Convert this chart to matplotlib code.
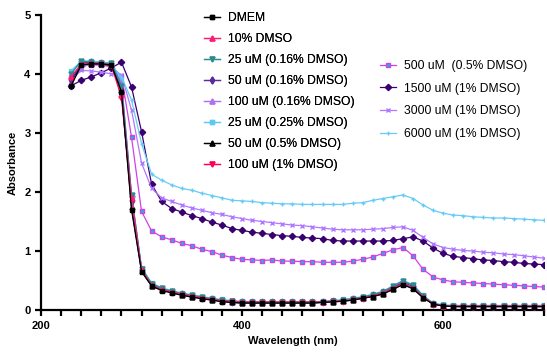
import numpy as np
import matplotlib
matplotlib.use("Agg")
import matplotlib.pyplot as plt

plt.rcParams["font.family"] = ["Liberation Sans", "DejaVu Sans"]

# wavelength grid (nm)
wl = np.arange(230, 701, 10)

# absorbance
dmem = [3.80, 4.15, 4.17, 4.17, 4.15, 3.70, 1.70, 0.65, 0.41, 0.33, 0.29, 0.25, 0.22, 0.19, 0.17, 0.14, 0.13, 0.12,
        0.12, 0.12, 0.12, 0.12, 0.12, 0.12, 0.12, 0.13, 0.14, 0.15,
        0.17, 0.20, 0.23, 0.27, 0.35, 0.43, 0.36, 0.21, 0.10, 0.07,
        0.06, 0.06, 0.06, 0.06, 0.06, 0.06, 0.06, 0.06, 0.06, 0.06]
dmso10 = [3.95, 4.17, 4.18, 4.18, 4.15, 3.65, 1.90, 0.68, 0.42, 0.35, 0.31, 0.27, 0.24, 0.21, 0.18, 0.16, 0.15, 0.14,
          0.14, 0.14, 0.14, 0.14, 0.14, 0.14, 0.14, 0.14, 0.15, 0.16,
          0.18, 0.21, 0.24, 0.29, 0.37, 0.44, 0.37, 0.22, 0.11, 0.07,
          0.07, 0.07, 0.07, 0.07, 0.07, 0.07, 0.07, 0.07, 0.07, 0.07]
um25_016 = [4.00, 4.22, 4.20, 4.18, 4.18, 3.80, 1.95, 0.70, 0.45, 0.37, 0.32, 0.28, 0.25, 0.22, 0.19, 0.17, 0.15, 0.14,
            0.13, 0.13, 0.13, 0.13, 0.13, 0.13, 0.13, 0.14, 0.15, 0.17,
            0.19, 0.22, 0.26, 0.31, 0.40, 0.49, 0.42, 0.24, 0.11, 0.08,
            0.07, 0.07, 0.07, 0.07, 0.07, 0.07, 0.07, 0.07, 0.07, 0.07]
um50_016 = [3.90, 4.18, 4.20, 4.18, 4.16, 3.75, 1.85, 0.68, 0.43, 0.35, 0.31, 0.27, 0.24, 0.21, 0.18, 0.16, 0.14, 0.13,
            0.13, 0.13, 0.13, 0.13, 0.13, 0.13, 0.13, 0.14, 0.15, 0.16,
            0.18, 0.21, 0.25, 0.30, 0.38, 0.47, 0.40, 0.23, 0.10, 0.07,
            0.06, 0.06, 0.06, 0.06, 0.06, 0.06, 0.06, 0.06, 0.06, 0.06]
um100_016 = [3.85, 4.10, 4.18, 4.18, 4.16, 3.85, 1.95, 0.70, 0.44, 0.36, 0.32, 0.28, 0.25, 0.22, 0.19, 0.17, 0.15, 0.14,
             0.13, 0.13, 0.13, 0.13, 0.13, 0.13, 0.13, 0.14, 0.15, 0.17,
             0.19, 0.22, 0.26, 0.31, 0.41, 0.50, 0.42, 0.24, 0.11, 0.08,
             0.07, 0.07, 0.07, 0.07, 0.07, 0.07, 0.07, 0.07, 0.07, 0.07]
um25_025 = [4.05, 4.22, 4.22, 4.20, 4.18, 3.90, 1.95, 0.72, 0.46, 0.38, 0.33, 0.29, 0.26, 0.23, 0.20, 0.18, 0.16, 0.15,
            0.14, 0.14, 0.14, 0.14, 0.14, 0.14, 0.14, 0.15, 0.16, 0.18,
            0.20, 0.23, 0.27, 0.32, 0.41, 0.50, 0.43, 0.25, 0.12, 0.09,
            0.08, 0.08, 0.08, 0.08, 0.08, 0.08, 0.08, 0.08, 0.08, 0.08]
um50_05 = [3.85, 4.16, 4.17, 4.17, 4.14, 3.72, 1.75, 0.66, 0.41, 0.34, 0.30, 0.26, 0.23, 0.20, 0.17, 0.15, 0.13, 0.12,
           0.12, 0.12, 0.12, 0.12, 0.12, 0.12, 0.12, 0.13, 0.14, 0.15,
           0.17, 0.20, 0.23, 0.28, 0.36, 0.44, 0.37, 0.21, 0.10, 0.07,
           0.06, 0.06, 0.06, 0.06, 0.06, 0.06, 0.06, 0.06, 0.06, 0.06]
um100_1 = [3.90, 4.18, 4.18, 4.18, 4.15, 3.60, 1.90, 0.67, 0.42, 0.35, 0.31, 0.27, 0.24, 0.21, 0.18, 0.16, 0.15, 0.14,
           0.14, 0.14, 0.14, 0.14, 0.14, 0.14, 0.14, 0.14, 0.15, 0.16,
           0.18, 0.21, 0.24, 0.29, 0.37, 0.45, 0.37, 0.22, 0.11, 0.07,
           0.07, 0.07, 0.07, 0.07, 0.07, 0.07, 0.07, 0.07, 0.07, 0.07]
um500 = [3.95, 4.15, 4.15, 4.15, 4.12, 3.97, 2.93, 1.67, 1.34, 1.24, 1.19, 1.13, 1.09, 1.03, 0.99, 0.93, 0.89, 0.86,
         0.85, 0.84, 0.85, 0.83, 0.83, 0.82, 0.82, 0.81, 0.81, 0.81,
         0.83, 0.86, 0.90, 0.96, 1.02, 1.06, 0.92, 0.69, 0.56, 0.51,
         0.48, 0.47, 0.46, 0.45, 0.44, 0.43, 0.42, 0.41, 0.40, 0.39]
um1500 = [3.80, 3.89, 3.95, 4.02, 4.10, 4.20, 3.78, 3.02, 2.13, 1.84, 1.72, 1.66, 1.60, 1.55, 1.49, 1.44, 1.38, 1.35,
          1.32, 1.30, 1.28, 1.26, 1.25, 1.23, 1.22, 1.21, 1.18, 1.17,
          1.17, 1.17, 1.17, 1.17, 1.18, 1.21, 1.24, 1.17, 1.05, 0.96,
          0.91, 0.89, 0.87, 0.85, 0.84, 0.82, 0.81, 0.79, 0.78, 0.77]
um3000 = [3.90, 4.06, 4.05, 4.03, 4.00, 3.98, 3.39, 2.49, 2.06, 1.90, 1.84, 1.78, 1.73, 1.69, 1.65, 1.62, 1.58, 1.55,
          1.52, 1.50, 1.48, 1.46, 1.44, 1.43, 1.41, 1.39, 1.37, 1.36,
          1.36, 1.36, 1.37, 1.38, 1.40, 1.41, 1.35, 1.23, 1.12, 1.06,
          1.03, 1.01, 1.00, 0.98, 0.97, 0.95, 0.94, 0.92, 0.90, 0.88]
um6000 = [4.05, 4.20, 4.20, 4.20, 4.15, 3.95, 3.56, 2.82, 2.30, 2.20, 2.12, 2.06, 2.03, 1.98, 1.94, 1.90, 1.86, 1.85,
          1.84, 1.82, 1.81, 1.80, 1.80, 1.79, 1.79, 1.79, 1.79, 1.79,
          1.81, 1.82, 1.86, 1.89, 1.92, 1.95, 1.89, 1.78, 1.69, 1.64,
          1.61, 1.60, 1.58, 1.57, 1.56, 1.56, 1.55, 1.54, 1.53, 1.52]

labels_left = ["DMEM", "10% DMSO", "25 uM (0.16% DMSO)", "50 uM (0.16% DMSO)",
               "100 uM (0.16% DMSO)", "25 uM (0.25% DMSO)", "50 uM (0.5% DMSO)", "100 uM (1% DMSO)"]
labels_right = ["500 uM  (0.5% DMSO)", "1500 uM (1% DMSO)", "3000 uM (1% DMSO)", "6000 uM (1% DMSO)"]


def set_display(fig, ax):
    """axis cosmetics (Prism-like)"""
    fig.subplots_adjust(left=0.075, right=0.994, bottom=0.124, top=0.958)

    ax.spines["right"].set_visible(False)
    ax.spines["top"].set_visible(False)
    for side in ("left", "bottom"):
        ax.spines[side].set_linewidth(1.6)

    ax.set_xlim(200, 700)
    ax.set_ylim(0, 5)
    ax.set_xticks([200, 400, 600])
    ax.set_xticks(np.arange(200, 701, 20), minor=True)
    ax.set_yticks([0, 1, 2, 3, 4, 5])
    ax.tick_params(axis="both", which="major", direction="out", length=4, width=1.6, labelsize=8)
    ax.tick_params(axis="x", which="minor", direction="out", length=4, width=1.6)
    for lab in ax.get_xticklabels() + ax.get_yticklabels():
        lab.set_fontweight("bold")

    ax.set_xlabel("Wavelength (nm)", fontsize=8, fontweight="bold", labelpad=4)
    ax.set_ylabel("Absorbance", fontsize=8, fontweight="bold", labelpad=5)


def main():
    fig = plt.figure(figsize=(5.47, 3.54), dpi=100)
    ax = fig.add_subplot(1, 1, 1)

    lw = 0.9
    ms = 3.5
    # left legend group
    left = [
        (dmem, dict(color="#000000", marker="s")),
        (dmso10, dict(color="#FF1A75", marker="^")),
        (um25_016, dict(color="#2A8C8C", marker="v")),
        (um50_016, dict(color="#5B2C9A", marker="d")),
        (um100_016, dict(color="#B070F0", marker="^")),
        (um25_025, dict(color="#5CC8F5", marker="s")),
        (um50_05, dict(color="#000000", marker="^")),
        (um100_1, dict(color="#FF0055", marker="v")),
    ]
    right = [
        (um500, dict(color="#D040E8", marker="s", markerfacecolor="#20B8C8")),
        (um1500, dict(color="#3A0070", marker="D", markersize=3.2)),
        (um3000, dict(color="#B077FF", marker="x")),
        (um6000, dict(color="#66CCF5", marker="+")),
    ]

    h_left = []
    for i, (y, st) in enumerate(left):
        kw = dict(linewidth=lw, markersize=ms)
        kw.update(st)
        line, = ax.plot(wl, y, label=labels_left[i], zorder=10 - i, **kw)
        h_left.append(line)
    h_right = []
    for i, (y, st) in enumerate(right):
        kw = dict(linewidth=lw, markersize=ms)
        kw.update(st)
        line, = ax.plot(wl, y, label=labels_right[i], zorder=2, **kw)
        h_right.append(line)

    set_display(fig, ax)

    leg_kw = dict(frameon=False, fontsize=8.7, borderpad=0, borderaxespad=0,
                  handlelength=1.32, handletextpad=0.66, loc="upper left")
    leg1 = fig.legend(handles=h_left, bbox_to_anchor=(204 / 547, 1 - 12 / 354),
                      labelspacing=0.75, **leg_kw)
    fig.add_artist(leg1)
    fig.legend(handles=h_right, bbox_to_anchor=(380 / 547, 1 - 60 / 354),
               labelspacing=0.88, **leg_kw)

    fig.savefig("out.png", dpi=100)


if __name__ == "__main__":
    main()
